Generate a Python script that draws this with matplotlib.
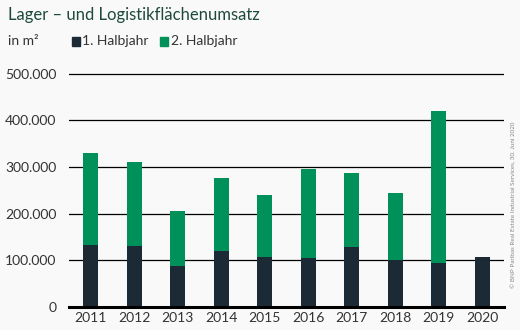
import matplotlib

matplotlib.use("Agg")
import matplotlib.pyplot as plt
from matplotlib.ticker import FuncFormatter
import numpy as np

# Flächenumsatz in m²
years = ["2011", "2012", "2013", "2014", "2015", "2016", "2017", "2018", "2019", "2020"]
h1 = [133000, 131000, 88000, 120000, 107000, 105000, 129000, 100000, 94000, 106000]
h2 = [197000, 180000, 118000, 157000, 133000, 191000, 158000, 143000, 325000, 0]
yticks = [0, 100000, 200000, 300000, 400000, 500000]

DARK = "#1c2a35"
GREEN = "#00905a"
TITLE = "#1e4a3d"
INK = "#333333"
BG = "#f9f9f9"

plt.rcParams["font.family"] = ["Lato", "DejaVu Sans"]

fig = plt.figure(figsize=(5.2, 3.3), dpi=100, facecolor=BG)
ax = fig.add_axes([0.1327, 0.0706, 0.8363, 0.713], facecolor=BG)

x = np.arange(len(years))
ax.bar(x, h1, width=0.34, color=DARK, zorder=3)
ax.bar(x, h2, width=0.34, bottom=h1, color=GREEN, zorder=3)

ax.set_xlim(-0.5, len(years) - 0.5)
ax.set_ylim(0, 505000)
ax.set_yticks(yticks)
ax.yaxis.set_major_formatter(FuncFormatter(lambda v, _: f"{int(v):,}".replace(",", ".")))
ax.set_xticks(x, years)
ax.grid(axis="y", color="black", lw=0.9, zorder=1)
for s in ("top", "right", "left"):
    ax.spines[s].set_visible(False)
ax.spines["bottom"].set_linewidth(2.2)
ax.spines["bottom"].set_zorder(4)
ax.tick_params(axis="y", length=0, pad=9, labelsize=10, labelcolor=INK)
ax.tick_params(axis="x", length=0, pad=4, labelsize=10, labelcolor=INK)

fig.text(0.015, 0.955, "Lager – und Logistikflächenumsatz", fontsize=12,
         color=TITLE, va="center", ha="left")
fig.text(0.015, 0.875, "in m²", fontsize=10, color=INK, va="center")
fig.patches.append(plt.Rectangle((0.138, 0.862), 0.016, 0.026, color=DARK,
                                 transform=fig.transFigure, figure=fig))
fig.text(0.158, 0.875, "1. Halbjahr", fontsize=10, color=INK, va="center")
fig.patches.append(plt.Rectangle((0.308, 0.862), 0.016, 0.026, color=GREEN,
                                 transform=fig.transFigure, figure=fig))
fig.text(0.328, 0.875, "2. Halbjahr", fontsize=10, color=INK, va="center")

fig.text(0.987, 0.38, "© BNP Paribas Real Estate Industrial Services, 30. Juni 2020",
         fontsize=4.5, color="#888888", rotation=90, va="center", ha="center")

fig.savefig("out.png", facecolor=BG)
